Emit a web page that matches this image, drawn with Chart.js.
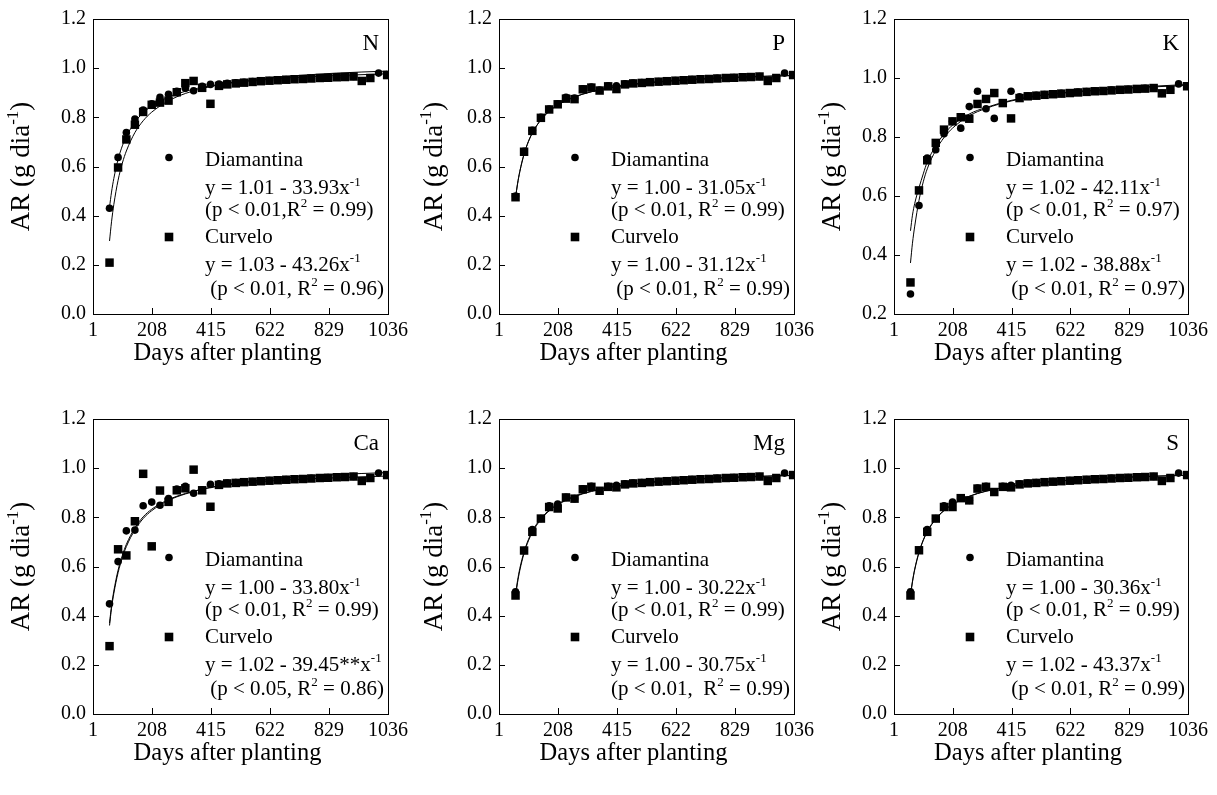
<!DOCTYPE html>
<html>
<head>
<meta charset="utf-8">
<script src="https://cdn.jsdelivr.net/npm/chart.js@4.4.0/dist/chart.umd.min.js"></script>
<style>
  html, body { margin: 0; padding: 0; background: #fff; }
  #wrap { position: relative; width: 1217px; height: 795px; overflow: hidden; background: #fff; }
  #wrap canvas { position: absolute; }
</style>
</head>
<body>
<div id="wrap"></div>
<script>
// sampling dates (days after planting)
const days = [59, 89, 118, 148, 177, 207, 236, 266, 295, 325, 354, 384, 413, 443, 472, 502, 531,
  561, 590, 620, 649, 679, 708, 738, 767, 797, 826, 856, 885, 915, 944, 974, 1003, 1033];
// dates where the fitted curves are read
const curveDays = [59, 66, 74, 89, 104, 118, 148, 177, 207, 266, 325, 413, 531, 679, 856, 1033];

const xTicks = [1, 208, 415, 622, 829, 1036];
const yTicks = [0, 0.2, 0.4, 0.6, 0.8, 1.0, 1.2];
const yTicksK = [0.2, 0.4, 0.6, 0.8, 1.0, 1.2];

// N
const nDia = [0.430, 0.637, 0.738, 0.793, 0.830, 0.855, 0.881, 0.894, 0.906, 0.918, 0.908, 0.926, 0.934,
  0.935, 0.938, 0.940, 0.943, 0.946, 0.948, 0.950, 0.952, 0.954, 0.956, 0.957, 0.959, 0.960, 0.962, 0.963, 0.965, 0.966, 0.948, 0.960, 0.980, 0.974];
const nCur = [0.209, 0.596, 0.710, 0.770, 0.822, 0.851, 0.860, 0.868, 0.902, 0.939, 0.948, 0.920, 0.855,
  0.928, 0.934, 0.938, 0.941, 0.944, 0.947, 0.949, 0.951, 0.953, 0.955, 0.956, 0.958, 0.960, 0.961, 0.963, 0.964, 0.966, 0.948, 0.960, null, 0.972];
const nDiaFit = [0.435, 0.496, 0.551, 0.629, 0.684, 0.722, 0.781, 0.818, 0.846, 0.882, 0.906, 0.928, 0.946, 0.960, 0.970, 0.977];
const nCurFit = [0.297, 0.375, 0.445, 0.544, 0.614, 0.663, 0.738, 0.786, 0.821, 0.867, 0.897, 0.925, 0.949, 0.966, 0.980, 0.988];

// P
const pDia = [0.480, 0.662, 0.747, 0.800, 0.834, 0.855, 0.881, 0.878, 0.916, 0.923, 0.911, 0.928, 0.928,
  0.936, 0.939, 0.941, 0.944, 0.946, 0.948, 0.950, 0.952, 0.954, 0.956, 0.957, 0.959, 0.960, 0.962, 0.963, 0.965, 0.966, 0.948, 0.960, 0.980, 0.972];
const pCur = [0.475, 0.660, 0.745, 0.798, 0.832, 0.853, 0.876, 0.874, 0.914, 0.921, 0.909, 0.926, 0.915,
  0.934, 0.938, 0.940, 0.943, 0.945, 0.947, 0.949, 0.951, 0.953, 0.955, 0.956, 0.958, 0.960, 0.961, 0.963, 0.964, 0.966, 0.948, 0.960, null, 0.972];
const pDiaFit = [0.474, 0.530, 0.580, 0.651, 0.701, 0.737, 0.790, 0.825, 0.850, 0.883, 0.904, 0.925, 0.942, 0.954, 0.964, 0.970];
const pCurFit = [0.473, 0.528, 0.579, 0.650, 0.701, 0.736, 0.790, 0.824, 0.850, 0.883, 0.904, 0.925, 0.941, 0.954, 0.964, 0.970];

// K
const kDia = [0.268, 0.568, 0.729, 0.757, 0.811, 0.853, 0.830, 0.903, 0.955, 0.896, 0.863, 0.916, 0.955,
  0.936, 0.939, 0.941, 0.944, 0.946, 0.948, 0.950, 0.952, 0.954, 0.956, 0.957, 0.959, 0.960, 0.962, 0.963, 0.965, 0.966, 0.948, 0.960, 0.980, 0.972];
const kCur = [0.307, 0.619, 0.721, 0.780, 0.825, 0.853, 0.867, 0.862, 0.912, 0.929, 0.949, 0.915, 0.863,
  0.932, 0.938, 0.940, 0.943, 0.945, 0.947, 0.949, 0.951, 0.953, 0.955, 0.956, 0.958, 0.960, 0.961, 0.963, 0.964, 0.966, 0.948, 0.960, null, 0.972];
const kDiaFit = [0.373, 0.440, 0.498, 0.585, 0.648, 0.692, 0.755, 0.798, 0.830, 0.872, 0.897, 0.922, 0.942, 0.957, 0.969, 0.978];
const kCurFit = [0.482, 0.535, 0.575, 0.628, 0.675, 0.715, 0.770, 0.810, 0.840, 0.878, 0.900, 0.924, 0.943, 0.956, 0.967, 0.975];

// Ca
const caDia = [0.448, 0.620, 0.745, 0.748, 0.847, 0.862, 0.849, 0.876, 0.915, 0.926, 0.898, 0.912, 0.934,
  0.936, 0.939, 0.941, 0.944, 0.946, 0.948, 0.950, 0.952, 0.954, 0.956, 0.957, 0.959, 0.960, 0.962, 0.963, 0.965, 0.966, 0.948, 0.960, 0.980, 0.972];
const caCur = [0.276, 0.670, 0.645, 0.784, 0.977, 0.682, 0.909, 0.863, 0.910, 0.918, 0.994, 0.910, 0.843,
  0.932, 0.938, 0.940, 0.943, 0.945, 0.947, 0.949, 0.951, 0.953, 0.955, 0.956, 0.958, 0.960, 0.961, 0.963, 0.964, 0.966, 0.948, 0.960, null, 0.972];
const caDiaFit = [0.370, 0.440, 0.500, 0.585, 0.645, 0.690, 0.757, 0.802, 0.833, 0.872, 0.897, 0.921, 0.939, 0.952, 0.961, 0.968];
const caCurFit = [0.360, 0.430, 0.490, 0.575, 0.636, 0.681, 0.749, 0.795, 0.827, 0.869, 0.895, 0.922, 0.944, 0.961, 0.974, 0.982];

// Mg
const mgDia = [0.497, 0.665, 0.750, 0.795, 0.847, 0.854, 0.881, 0.876, 0.916, 0.926, 0.908, 0.926, 0.930,
  0.936, 0.939, 0.941, 0.944, 0.946, 0.948, 0.950, 0.952, 0.954, 0.956, 0.957, 0.959, 0.960, 0.962, 0.963, 0.965, 0.966, 0.948, 0.960, 0.980, 0.972];
const mgCur = [0.482, 0.665, 0.741, 0.795, 0.842, 0.836, 0.881, 0.876, 0.914, 0.924, 0.908, 0.924, 0.922,
  0.934, 0.938, 0.940, 0.943, 0.945, 0.947, 0.949, 0.951, 0.953, 0.955, 0.956, 0.958, 0.960, 0.961, 0.963, 0.964, 0.966, 0.948, 0.960, null, 0.972];
const mgDiaFit = [0.488, 0.542, 0.592, 0.660, 0.709, 0.744, 0.796, 0.829, 0.854, 0.886, 0.907, 0.927, 0.943, 0.955, 0.965, 0.971];
const mgCurFit = [0.479, 0.534, 0.584, 0.654, 0.704, 0.739, 0.792, 0.826, 0.851, 0.884, 0.905, 0.926, 0.942, 0.955, 0.964, 0.970];

// S
const sDia = [0.497, 0.666, 0.750, 0.795, 0.847, 0.862, 0.878, 0.869, 0.919, 0.926, 0.903, 0.926, 0.930,
  0.936, 0.939, 0.941, 0.944, 0.946, 0.948, 0.950, 0.952, 0.954, 0.956, 0.957, 0.959, 0.960, 0.962, 0.963, 0.965, 0.966, 0.948, 0.960, 0.980, 0.972];
const sCur = [0.482, 0.666, 0.741, 0.795, 0.842, 0.842, 0.878, 0.869, 0.917, 0.924, 0.903, 0.924, 0.922,
  0.934, 0.938, 0.940, 0.943, 0.945, 0.947, 0.949, 0.951, 0.953, 0.955, 0.956, 0.958, 0.960, 0.961, 0.963, 0.964, 0.966, 0.948, 0.960, null, 0.972];
const sDiaFit = [0.485, 0.540, 0.590, 0.659, 0.708, 0.743, 0.795, 0.828, 0.853, 0.886, 0.907, 0.926, 0.943, 0.955, 0.965, 0.971];
const sCurFit = [0.482, 0.537, 0.587, 0.656, 0.706, 0.741, 0.793, 0.827, 0.852, 0.885, 0.906, 0.926, 0.943, 0.955, 0.965, 0.971];

const panels = [
  { letter: 'N', dia: nDia, cur: nCur, diaFit: nDiaFit, curFit: nCurFit, yt: yTicks,
    text: ['y = 1.01 - 33.93x^{-1}', '(p < 0.01,R^{2} = 0.99)', 'y = 1.03 - 43.26x^{-1}', ' (p < 0.01, R^{2} = 0.96)'] },
  { letter: 'P', dia: pDia, cur: pCur, diaFit: pDiaFit, curFit: pCurFit, yt: yTicks,
    text: ['y = 1.00 - 31.05x^{-1}', '(p < 0.01, R^{2} = 0.99)', 'y = 1.00 - 31.12x^{-1}', ' (p < 0.01, R^{2} = 0.99)'] },
  { letter: 'K', dia: kDia, cur: kCur, diaFit: kDiaFit, curFit: kCurFit, yt: yTicksK,
    text: ['y = 1.02 - 42.11x^{-1}', '(p < 0.01, R^{2} = 0.97)', 'y = 1.02 - 38.88x^{-1}', ' (p < 0.01, R^{2} = 0.97)'] },
  { letter: 'Ca', dia: caDia, cur: caCur, diaFit: caDiaFit, curFit: caCurFit, yt: yTicks,
    text: ['y = 1.00 - 33.80x^{-1}', '(p < 0.01, R^{2} = 0.99)', 'y = 1.02 - 39.45**x^{-1}', ' (p < 0.05, R^{2} = 0.86)'] },
  { letter: 'Mg', dia: mgDia, cur: mgCur, diaFit: mgDiaFit, curFit: mgCurFit, yt: yTicks,
    text: ['y = 1.00 - 30.22x^{-1}', '(p < 0.01, R^{2} = 0.99)', 'y = 1.00 - 30.75x^{-1}', '(p < 0.01,  R^{2} = 0.99)'] },
  { letter: 'S', dia: sDia, cur: sCur, diaFit: sDiaFit, curFit: sCurFit, yt: yTicks,
    text: ['y = 1.00 - 30.36x^{-1}', '(p < 0.01, R^{2} = 0.99)', 'y = 1.02 - 43.37x^{-1}', ' (p < 0.01, R^{2} = 0.99)'] }
];

const colLeft = [93, 499, 894];
const colRight = [389, 795, 1189];
const titleX = [19, 432, 830];
const rowTop = [19, 419];
const PLOT_H = 295;
const SERIF = '"Liberation Serif", "Times New Roman", serif';

// draws text with ^{..} superscripts, returns width
function rich(ctx, str, x, y, size, draw) {
  const parts = str.split(/(\^\{[^}]*\})/);
  let cx = x;
  for (const p of parts) {
    if (!p) continue;
    const sup = p.startsWith('^{');
    const t = sup ? p.slice(2, -1) : p;
    ctx.font = (sup ? Math.round(size * 0.62) : size) + 'px ' + SERIF;
    if (draw) ctx.fillText(t, cx, sup ? y - size * 0.4 : y);
    cx += ctx.measureText(t).width;
  }
  return cx - x;
}

const decor = {
  id: 'decor',
  afterDraw(chart, args, opts) {
    const { ctx, chartArea: a, scales } = chart;
    const p = opts.panel;
    ctx.save();
    ctx.strokeStyle = '#000';
    ctx.fillStyle = '#000';
    ctx.lineWidth = 1;
    ctx.strokeRect(a.left + 0.5, a.top + 0.5, a.right - a.left, a.bottom - a.top);
    ctx.beginPath();
    scales.x.ticks.forEach(t => {
      const px = Math.round(scales.x.getPixelForValue(t.value)) + 0.5;
      ctx.moveTo(px, a.bottom); ctx.lineTo(px, a.bottom - 6);
    });
    scales.y.ticks.forEach(t => {
      const py = Math.round(scales.y.getPixelForValue(t.value)) + 0.5;
      ctx.moveTo(a.left, py); ctx.lineTo(a.left + 6, py);
    });
    ctx.stroke();

    ctx.textBaseline = 'alphabetic';
    // panel letter
    ctx.textAlign = 'right';
    ctx.font = '23px ' + SERIF;
    ctx.fillText(p.letter, a.right - 9, a.top + 31);

    // legend block
    ctx.textAlign = 'left';
    ctx.beginPath();
    ctx.arc(a.left + 76, a.top + 138.5, 3.8, 0, Math.PI * 2);
    ctx.fill();
    ctx.fillRect(a.left + 76 - 4.3, a.top + 218 - 4.3, 8.6, 8.6);
    const lines = ['Diamantina', p.text[0], p.text[1], 'Curvelo', p.text[2], p.text[3]];
    const base = [146.5, 175, 196.5, 223.5, 251.5, 275.5];
    lines.forEach((s, i) => rich(ctx, s, a.left + 112, a.top + base[i], 21, true));

    // axis titles
    ctx.textAlign = 'center';
    ctx.font = '24.5px ' + SERIF;
    ctx.fillText('Days after planting', (a.left + a.right) / 2 - 13, a.bottom + 46);
    ctx.textAlign = 'left';
    const title = 'AR (g dia^{-1})';
    const w = rich(ctx, title, 0, 0, 27, false);
    const tx = titleX[opts.col] - chart.canvas.offsetLeft;
    ctx.translate(tx + 9.5, (a.top + a.bottom) / 2);
    ctx.rotate(-Math.PI / 2);
    rich(ctx, title, -w / 2, 0, 27, true);
    ctx.restore();
  }
};

function pts(xs, ys) {
  const out = [];
  xs.forEach((x, i) => { if (ys[i] != null) out.push({ x: x, y: ys[i] }); });
  return out;
}

const wrap = document.getElementById('wrap');
panels.forEach((p, i) => {
  const r = Math.floor(i / 3), c = i % 3;
  const plotW = colRight[c] - colLeft[c];
  const cv = document.createElement('canvas');
  const W = plotW + 93 + 24, H = PLOT_H + 19 + 70;
  cv.width = W; cv.height = H;
  cv.style.left = (colLeft[c] - 93) + 'px';
  cv.style.top = (rowTop[r] - 19) + 'px';
  cv.style.width = W + 'px'; cv.style.height = H + 'px';
  wrap.appendChild(cv);

  const fit = (data) => ({
    data: data, showLine: true, pointRadius: 0, borderColor: '#000', borderWidth: 1,
    cubicInterpolationMode: 'monotone', fill: false, order: 3
  });

  new Chart(cv.getContext('2d'), {
    type: 'scatter',
    data: {
      datasets: [
        { label: 'Curvelo', data: pts(days, p.cur), pointStyle: 'rect', pointRadius: 6,
          pointBackgroundColor: '#000', pointBorderColor: '#000', pointBorderWidth: 0, order: 1 },
        { label: 'Diamantina', data: pts(days, p.dia), pointStyle: 'circle', pointRadius: 3.8,
          pointBackgroundColor: '#000', pointBorderColor: '#000', pointBorderWidth: 0, order: 2 },
        fit(pts(curveDays, p.diaFit)),
        fit(pts(curveDays, p.curFit))
      ]
    },
    options: {
      responsive: false,
      animation: false,
      devicePixelRatio: 1,
      layout: { padding: { left: 0, top: 19, right: 24, bottom: 0 } },
      plugins: { legend: { display: false }, tooltip: { enabled: false }, decor: { panel: p, col: c } },
      scales: {
        x: {
          type: 'linear', min: 1, max: 1036,
          afterBuildTicks: (s) => { s.ticks = xTicks.map(v => ({ value: v })); },
          afterFit: (s) => { s.height = 70; },
          grid: { display: false, drawTicks: false },
          border: { display: false },
          ticks: { color: '#000', padding: 5, maxRotation: 0, autoSkip: false,
            font: { family: SERIF, size: 20 }, callback: (v) => String(v) }
        },
        y: {
          type: 'linear', min: p.yt[0], max: 1.2,
          afterBuildTicks: (s) => { s.ticks = p.yt.map(v => ({ value: v })); },
          afterFit: (s) => { s.width = 93; },
          grid: { display: false, drawTicks: false },
          border: { display: false },
          ticks: { color: '#000', padding: 7, autoSkip: false,
            font: { family: SERIF, size: 20 }, callback: (v) => Number(v).toFixed(1) }
        }
      }
    },
    plugins: [decor]
  });
});
</script>
</body>
</html>
